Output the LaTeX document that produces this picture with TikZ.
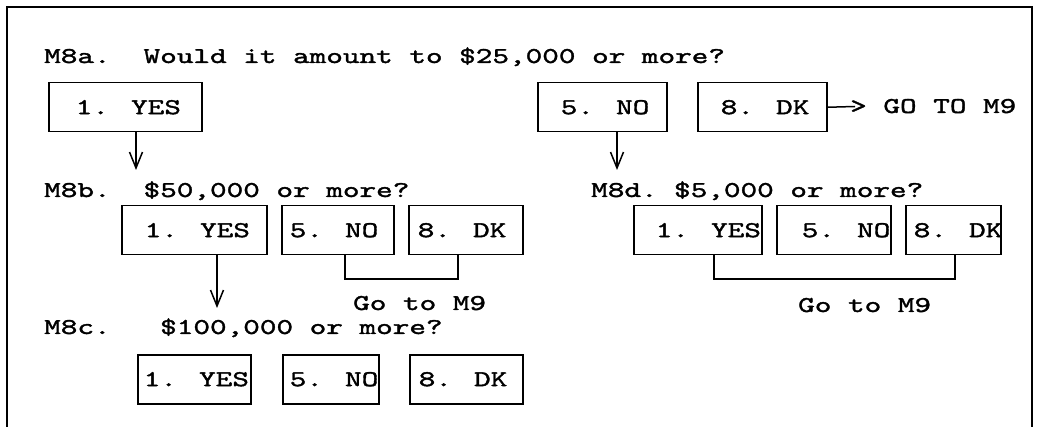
\documentclass[tikz,border=0pt]{standalone}
\usepackage{fontspec}
\setmainfont{lmmono10-regular.otf}[FakeStretch=1.40,FakeBold=1.6]
\usetikzlibrary{arrows.meta}
\newcommand\bxt[3]{\makebox[#1pt][l]{\hspace*{#2pt}#3}}
\tikzset{
  every node/.style={font=\fontsize{22.6pt}{27pt}\selectfont},
  txt/.style={anchor=base west, inner sep=0pt},
  bx/.style={draw, line width=1.5pt, inner sep=0pt, minimum height=49pt, anchor=north west},
  conn/.style={line width=1.5pt},
  arr/.style={line width=1.5pt, -{Straight Barb[length=16pt,width=13pt]}},
  frame/.style={line width=1.8pt}
}
\begin{document}
\begin{tikzpicture}[x=1pt,y=-1pt]
\useasboundingbox (0,0) rectangle (1038,427);
% frame
\coordinate (fbl) at (7,427);
\coordinate (ftl) at (7,7);
\coordinate (ftr) at (1032,7);
\coordinate (fbr) at (1032,427);
\draw[frame] (fbl) -- (ftl) -- (ftr) -- (fbr);

% questions
\node[txt] (lA) at (44,63) {M8a.};
\node[txt] (qA) at (143.4,63) {Would it amount to \$25,000 or more?};
\node[txt] (lB) at (44,197) {M8b.};
\node[txt] (qB) at (143.4,197) {\$50,000 or more?};
\node[txt] (lC) at (44,334) {M8c.};
\node[txt] (qC) at (160,334) {\$100,000 or more?};
\node[txt] (lD) at (591,197) {M8d.};
\node[txt] (qD) at (673.9,197) {\$5,000 or more?};

% row A
\node[bx] (A1) at (48,82) {\bxt{153}{27}{1. YES}};
\node[bx] (A5) at (537,82) {\bxt{129}{23}{5. NO}};
\node[bx] (A8) at (697,82) {\bxt{129}{23}{8. DK}};
\node[txt] (goA) at (850,113) {> GO TO M9};
\coordinate (goAin) at (855,106.5);
\draw[conn] (A8.east) -- (goAin);

% row B
\node[bx] (B1) at (121,205) {\bxt{145}{23}{1. YES}};
\node[bx] (B5) at (281,205) {\bxt{112}{8}{5. NO}};
\node[bx] (B8) at (408,205) {\bxt{114}{9}{8. DK}};
\node[txt] (goB) at (353,310) {Go to M9};

% row D
\node[bx] (D1) at (633,205) {\bxt{128}{22}{1. YES}};
\node[bx] (D5) at (776,205) {\bxt{114}{25}{5. NO}};
\node[bx] (D8) at (905,205) {\bxt{95}{8}{8. DK}};
\node[txt] (goD) at (798,312) {Go to M9};

% row C
\node[bx] (C1) at (137,354) {\bxt{113}{6}{1. YES}};
\node[bx] (C5) at (282,354) {\bxt{96}{7}{5. NO}};
\node[bx] (C8) at (409,354) {\bxt{113}{9}{8. DK}};

% arrows
\coordinate (tA1) at (136,170);
\coordinate (tA5) at (617,170);
\coordinate (tB1) at (217,308);
\draw[arr] (A1.south -| tA1) -- (tA1);
\draw[arr] (A5.south -| tA5) -- (tA5);
\draw[arr] (B1.south -| tB1) -- (tB1);

% brackets
\coordinate (kB5) at (345,279);
\coordinate (kB8) at (458,279);
\draw[conn] (B5.south -| kB5) -- (kB5) -- (kB8) -- (B8.south -| kB8);
\coordinate (kD1) at (714,279);
\coordinate (kD8) at (955,279);
\draw[conn] (D1.south -| kD1) -- (kD1) -- (kD8) -- (D8.south -| kD8);
\end{tikzpicture}
\end{document}
